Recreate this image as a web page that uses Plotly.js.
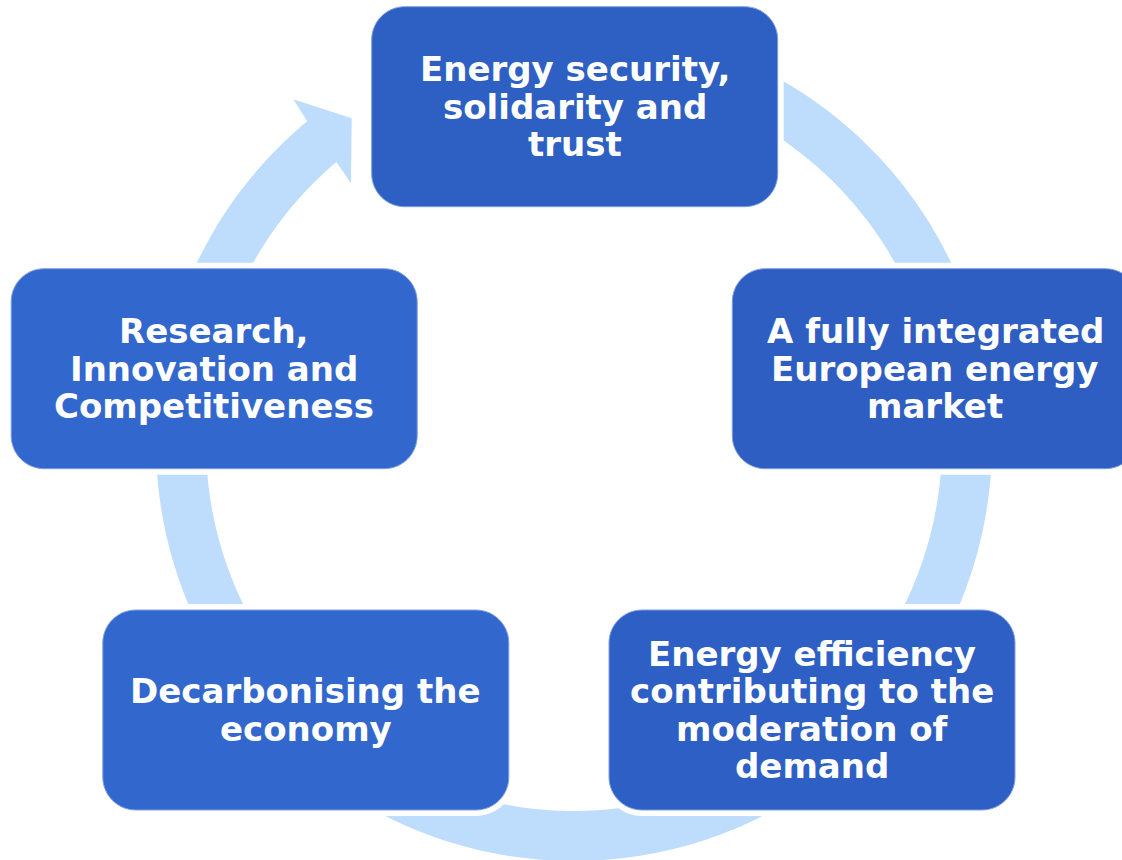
<!DOCTYPE html>
<html>
<head>
<meta charset="utf-8">
<script src="https://cdn.plot.ly/plotly-3.0.1.min.js"></script>
<style>html,body{margin:0;padding:0;background:#fff;}#chart{width:1122px;height:860px;}</style>
</head>
<body>
<div id="chart"></div>
<script>
// ---- content ----
const nodeLabels = [
  "Energy security,\nsolidarity and\ntrust",
  "A fully integrated\nEuropean energy\nmarket",
  "Energy efficiency\ncontributing to the\nmoderation of\ndemand",
  "Decarbonising the\neconomy",
  "Research,\nInnovation and\nCompetitiveness"
];
const nodeColors = ["#2E5FC3", "#2E5EC2", "#2E5FC4", "#3267CE", "#3267CE"];

// ---- layout geometry (pixels) ----
const W = 1122, H = 860;
const nodeCX = [574.7, 935.3, 812.0, 305.8, 214.2];
const nodeCY = [106.7, 368.7, 710.0, 710.0, 368.7];
const boxW = 406, boxH = 200, cornerR = 33, gapMargin = 6;
const ring = {cx: 574, cy: 443, rOut: 418, rIn: 368, color: "#BEDDFC"};
const fontSize = 34, linePitch = 37.5;

function pt(r, deg) {
  const a = deg * Math.PI / 180;
  return [ring.cx + r * Math.cos(a), ring.cy - r * Math.sin(a)];
}
function arcPts(r, a0, a1, n) {
  const out = [];
  for (let i = 0; i <= n; i++) out.push(pt(r, a0 + (a1 - a0) * i / n));
  return out;
}
// ring with arrowhead (arrow pointing towards top node)
const outerStart = 129.66, innerStart = 130.23, ringEnd = 479;
let ringPts = [];
ringPts = ringPts.concat(arcPts(ring.rOut, outerStart, ringEnd, 360));
ringPts = ringPts.concat(arcPts(ring.rIn, ringEnd, innerStart, 360));
ringPts.push(pt(342.3, 130.65));  // inner barb (clipped)
ringPts.push(pt(393.5, 124.4));   // tip (clipped)
ringPts.push(pt(443.8, 129.24));  // outer barb
const ringPath = "M" + ringPts.map(p => p[0].toFixed(2) + "," + p[1].toFixed(2)).join("L") + "Z";

function roundRect(x0, y0, x1, y1, r) {
  const k = 0.5523 * r;
  return `M${x0 + r},${y0} L${x1 - r},${y0} C${x1 - r + k},${y0} ${x1},${y0 + r - k} ${x1},${y0 + r}` +
    ` L${x1},${y1 - r} C${x1},${y1 - r + k} ${x1 - r + k},${y1} ${x1 - r},${y1}` +
    ` L${x0 + r},${y1} C${x0 + r - k},${y1} ${x0},${y1 - r + k} ${x0},${y1 - r}` +
    ` L${x0},${y0 + r} C${x0},${y0 + r - k} ${x0 + r - k},${y0} ${x0 + r},${y0} Z`;
}

const shapes = [{type: "path", path: ringPath, xref: "x", yref: "y",
  fillcolor: ring.color, line: {width: 0}, layer: "above"}];
const annotations = [];
nodeLabels.forEach((lab, i) => {
  const x0 = nodeCX[i] - boxW / 2, x1 = nodeCX[i] + boxW / 2;
  const y0 = nodeCY[i] - boxH / 2, y1 = nodeCY[i] + boxH / 2;
  const m = gapMargin;
  shapes.push({type: "path", path: roundRect(x0 - m, y0 - m, x1 + m, y1 + m, cornerR + m),
    xref: "x", yref: "y", fillcolor: "#FFFFFF", line: {width: 0}, layer: "above"});
  shapes.push({type: "path", path: roundRect(x0, y0, x1, y1, cornerR),
    xref: "x", yref: "y", fillcolor: nodeColors[i], line: {width: 1, color: "#7F9FE0"}, layer: "above"});
  const lines = lab.split("\n");
  lines.forEach((ln, j) => {
    annotations.push({
      x: nodeCX[i], y: nodeCY[i] + (j - (lines.length - 1) / 2) * linePitch,
      xref: "x", yref: "y", text: ln, showarrow: false,
      xanchor: "center", yanchor: "middle",
      font: {family: "DejaVu Sans", size: fontSize, color: "#FFFFFF", weight: 700}
    });
  });
});

Plotly.newPlot("chart", [], {
  width: W, height: H,
  margin: {l: 0, r: 0, t: 0, b: 0},
  paper_bgcolor: "#FFFFFF", plot_bgcolor: "#FFFFFF",
  xaxis: {range: [0, W], visible: false, fixedrange: true},
  yaxis: {range: [H, 0], visible: false, fixedrange: true},
  shapes: shapes, annotations: annotations, showlegend: false
}, {displayModeBar: false, staticPlot: true});
</script>
</body>
</html>
